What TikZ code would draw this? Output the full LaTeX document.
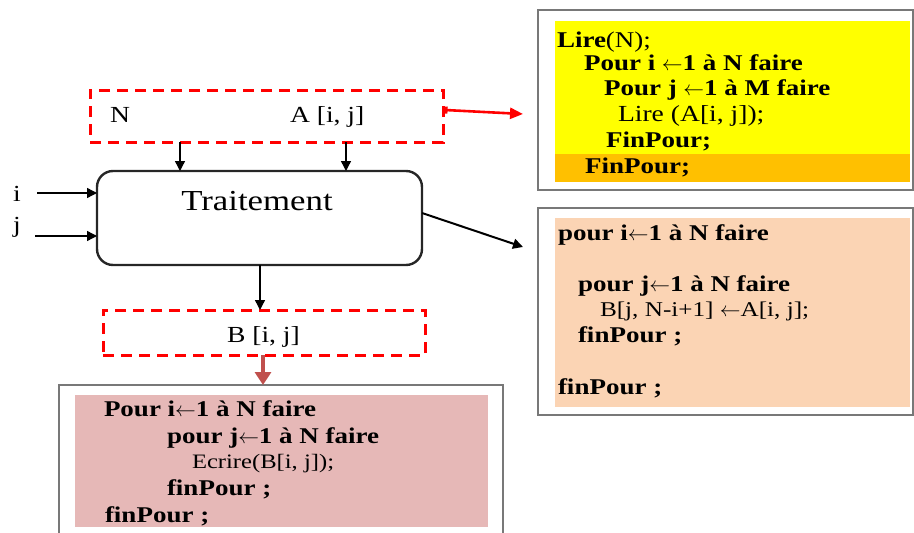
\documentclass[tikz,border=0pt]{standalone}
\usepackage{fontspec}
\setmainfont{Liberation Serif}[FakeStretch=1.2]
\usetikzlibrary{arrows.meta}
\definecolor{jaune}{RGB}{255,255,0}
\definecolor{orangefonce}{RGB}{255,192,0}
\definecolor{peche}{RGB}{251,212,180}
\definecolor{rose}{RGB}{230,184,183}
\definecolor{brique}{RGB}{192,80,77}
\definecolor{cadre}{RGB}{120,120,120}
\newcommand{\fl}{\(\leftarrow\)}
\tikzset{
  donnee/.style={draw=red,line width=3pt,dash pattern=on 11pt off 7pt},
  cadrealgo/.style={draw=cadre,line width=2pt},
  flux/.style={draw=black,line width=1.4pt,-{Triangle[length=10pt,width=10pt]}},
  etiq/.style={font=\fontsize{23}{26}\selectfont},
  code/.style={anchor=base west,font=\fontsize{22.5}{26}\selectfont\bfseries},
  codem/.style={anchor=base west,font=\fontsize{#1}{26}\selectfont},
}
\begin{document}
\begin{tikzpicture}[y=1pt, x=1pt, yscale=-1, inner sep=0pt, outer sep=0pt]
\useasboundingbox (0,0) rectangle (914,533);
% boites du schema
\node[donnee, minimum width=353pt, minimum height=52pt] (entree) at (266.5,116) {};
\node[draw=black!85, line width=2.4pt, rounded corners=16pt,
  minimum width=325pt, minimum height=94pt] (traitement) at (259.5,218) {};
\node[donnee, minimum width=322pt, minimum height=45pt] (sortie) at (264,332.5) {};
\node[etiq, anchor=base west] (txtN) at (110,122) {N};
\node[etiq, anchor=base west] (txtA) at (290,122) {A [i, j]};
\node[etiq, anchor=base west] (txtB) at (227,342) {B [i, j]};
\node[anchor=base, font=\fontsize{29}{32}\selectfont] (txtT) at (257,210) {Traitement};
\node[etiq, anchor=base west] (txti) at (13,201) {i};
\node[etiq, anchor=base west] (txtj) at (13,232) {j};
% cadres des algorithmes
\node[cadrealgo, minimum width=375pt, minimum height=180pt] (lecture) at (725.5,100) {};
\path[fill=jaune] (555,21) rectangle (910,154);
\path[fill=orangefonce] (555,154) rectangle (910,182);
\node[cadrealgo, minimum width=375pt, minimum height=207pt] (rotation) at (725.5,311.5) {};
\path[fill=peche] (555,218) rectangle (910,407);
\node[minimum width=444pt, minimum height=148pt] (ecriture) at (281,459) {};
\draw[cadrealgo] (ecriture.south west) |- (ecriture.north east) -- (ecriture.south east);
\path[fill=rose] (75,395) rectangle (488,527);
% lecture
\node[code] (lA1) at (557,47) {Lire\textmd{(N);}};
\node[code] (lA2) at (584,70) {Pour i \fl1 à N faire};
\node[code] (lA3) at (604,95) {Pour j \fl1 à M faire};
\node[codem=23] (lA4) at (618,121) {Lire (A[i, j]);};
\node[code] (lA5) at (606,147) {FinPour;};
\node[code] (lA6) at (585,173) {FinPour;};
% rotation
\node[code] (lR1) at (558,240) {pour i\fl1 à N faire};
\node[code] (lR2) at (578,291) {pour j\fl1 à N faire};
\node[codem=21] (lR3) at (600,316) {B[j, N-i+1] \fl A[i, j];};
\node[code] (lR4) at (578,342) {finPour ;};
\node[code] (lR5) at (558,394) {finPour ;};
% ecriture
\node[code] (lE1) at (104,416) {Pour i\fl1 à N faire};
\node[code] (lE2) at (167,443) {pour j\fl1 à N faire};
\node[codem=20.5] (lE3) at (192,468) {Ecrire(B[i, j]);};
\node[code] (lE4) at (167,495) {finPour ;};
\node[code] (lE5) at (105,522) {finPour ;};
% connecteurs
\coordinate (xN) at (180,0);
\coordinate (xA) at (346,0);
\coordinate (xB) at (260,0);
\coordinate (xS) at (263,0);
\coordinate (ei) at (37,193);
\coordinate (ej) at (35,236);
\coordinate (versL) at (523,114);
\coordinate (versR) at (523,247);
\draw[flux] (entree.south -| xN) -- (traitement.north -| xN);
\draw[flux] (entree.south -| xA) -- (traitement.north -| xA);
\draw[flux] (ei) -- (ei -| traitement.west);
\draw[flux] (ej) -- (ej -| traitement.west);
\draw[flux] (traitement.south -| xB) -- (sortie.north -| xB);
\draw[flux, line width=2pt] ([yshift=-5pt]traitement.east) -- (versR);
\draw[draw=red, line width=2.6pt, {Bar[width=7pt]}-{Triangle[length=13pt,width=11pt]}]
  ([yshift=-6pt,xshift=2pt]entree.east) -- (versL);
\draw[draw=brique, line width=3.5pt, -{Triangle[length=13pt,width=16pt]}]
  (sortie.south -| xS) -- (ecriture.north -| xS);
\end{tikzpicture}
\end{document}
